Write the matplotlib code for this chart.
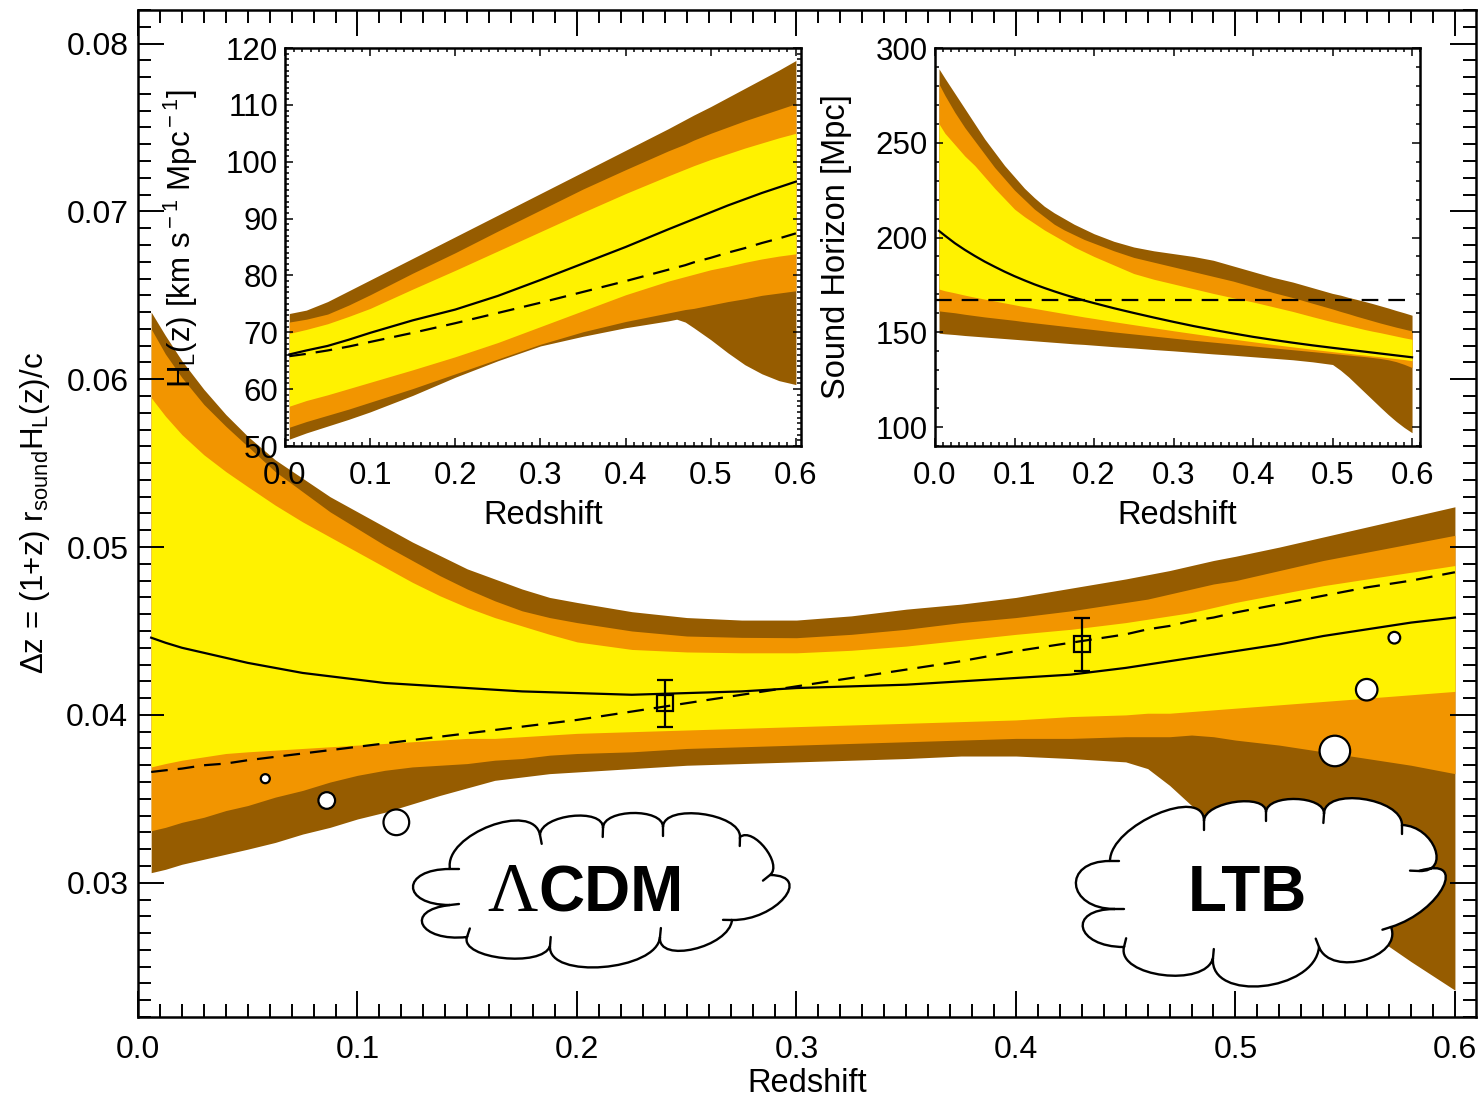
import numpy as np
import matplotlib
matplotlib.use("Agg")
import matplotlib.pyplot as plt
from matplotlib.patches import PathPatch
from matplotlib.path import Path
from matplotlib.ticker import MultipleLocator, FormatStrFormatter

plt.rcParams['font.family'] = ['Liberation Sans', 'DejaVu Sans']
plt.rcParams['mathtext.fontset'] = 'custom'
plt.rcParams['mathtext.rm'] = 'Liberation Sans'
plt.rcParams['mathtext.it'] = 'Liberation Sans:italic'
plt.rcParams['mathtext.bf'] = 'Liberation Sans:bold'

# ---------------- main panel data ----------------
z_main = [0.006, 0.0125, 0.02, 0.03, 0.04, 0.05, 0.0625, 0.075, 0.0875, 0.1, 0.1125, 0.125,
          0.1375, 0.15, 0.1625, 0.175, 0.1875, 0.2, 0.225, 0.25, 0.275, 0.3, 0.325, 0.35,
          0.375, 0.4, 0.425, 0.45, 0.46, 0.47, 0.48, 0.49, 0.5, 0.52, 0.54, 0.56, 0.58, 0.6]
main_u3 = [0.0640, 0.0626, 0.0611, 0.0594, 0.0579, 0.0566, 0.0552, 0.0541, 0.0530, 0.0521,
           0.0512, 0.0503, 0.0495, 0.0487, 0.0481, 0.0475, 0.0470, 0.0467, 0.04615, 0.0458,
           0.04565, 0.04565, 0.0459, 0.0463, 0.0466, 0.0470, 0.04755, 0.0481, 0.04835, 0.0486,
           0.0489, 0.0492, 0.04945, 0.0500, 0.0506, 0.0512, 0.0518, 0.0524]
main_u2 = [0.0630, 0.0615, 0.0601, 0.0585, 0.0572, 0.0560, 0.0545, 0.0533, 0.0521, 0.0511,
           0.0501, 0.0492, 0.0483, 0.0475, 0.0468, 0.0462, 0.0458, 0.0455, 0.0450, 0.0447,
           0.04462, 0.0446, 0.0448, 0.0451, 0.0455, 0.0458, 0.0462, 0.0467, 0.0469, 0.0472,
           0.0475, 0.0478, 0.0480, 0.0486, 0.0492, 0.0497, 0.0502, 0.0507]
main_u1 = [0.0589, 0.0578, 0.0567, 0.0555, 0.0545, 0.0536, 0.0525, 0.0515, 0.0506, 0.0497,
           0.0488, 0.0479, 0.0471, 0.0464, 0.0458, 0.0453, 0.0448, 0.04435, 0.0439, 0.04375,
           0.0437, 0.0437, 0.04385, 0.0441, 0.04445, 0.0448, 0.0451, 0.0455, 0.0457, 0.0459,
           0.0461, 0.0464, 0.0467, 0.0472, 0.0477, 0.0481, 0.0485, 0.0489]
main_l1 = [0.0369, 0.0371, 0.0373, 0.0375, 0.0377, 0.0378, 0.0379, 0.0380, 0.0381, 0.0382,
           0.0383, 0.0384, 0.0385, 0.0386, 0.0386, 0.0387, 0.0388, 0.0389, 0.0390, 0.0391,
           0.0392, 0.0393, 0.0394, 0.0395, 0.0396, 0.0397, 0.0399, 0.0400, 0.0401, 0.0401,
           0.0402, 0.0403, 0.0404, 0.0406, 0.0408, 0.0410, 0.0412, 0.0414]
main_l2 = [0.0331, 0.0333, 0.0336, 0.0339, 0.0343, 0.0346, 0.0351, 0.0355, 0.0360, 0.0364,
           0.0367, 0.0369, 0.0370, 0.0371, 0.0373, 0.0374, 0.0376, 0.0377, 0.0378, 0.0380,
           0.0381, 0.0382, 0.0383, 0.0384, 0.0385, 0.0386, 0.0386, 0.0387, 0.0387, 0.0387,
           0.0388, 0.0387, 0.0385, 0.0382, 0.0378, 0.0374, 0.0370, 0.0365]
main_l3 = [0.0306, 0.0308, 0.0311, 0.0314, 0.0317, 0.0320, 0.0324, 0.0329, 0.0333, 0.0338,
           0.0342, 0.0347, 0.0352, 0.03565, 0.0361, 0.0363, 0.0365, 0.0366, 0.0368, 0.0370,
           0.0371, 0.0372, 0.0373, 0.0374, 0.03755, 0.03755, 0.0374, 0.0372, 0.0368, 0.0358,
           0.0346, 0.0335, 0.0325, 0.0306, 0.0288, 0.0271, 0.0253, 0.0236]
main_ltb = [0.0446, 0.0443, 0.0440, 0.0437, 0.0434, 0.0431, 0.0428, 0.0425, 0.0423, 0.0421,
            0.0419, 0.0418, 0.0417, 0.0416, 0.0415, 0.0414, 0.04135, 0.0413, 0.0412, 0.0413,
            0.0414, 0.0416, 0.0417, 0.0418, 0.0420, 0.0422, 0.0424, 0.0428, 0.0430, 0.0432,
            0.0434, 0.0436, 0.0438, 0.0442, 0.0447, 0.0451, 0.0455, 0.0458]
main_lcdm = [0.0366, 0.0367, 0.0368, 0.0370, 0.0371, 0.0373, 0.0375, 0.0377, 0.0379, 0.0381,
             0.0383, 0.0385, 0.0387, 0.0389, 0.0391, 0.0393, 0.0395, 0.0397, 0.0402, 0.0407,
             0.0412, 0.0417, 0.0422, 0.0427, 0.0432, 0.0438, 0.0443, 0.0448, 0.0451, 0.0453,
             0.0456, 0.0458, 0.0461, 0.0466, 0.0471, 0.0476, 0.0480, 0.0485]

bao_z = [0.24, 0.43]
bao_dz = [0.0407, 0.0442]
bao_err = [0.0014, 0.0016]

# thought bubbles (z, value, marker diameter in pt)
bub_z = [0.058, 0.086, 0.1177, 0.5724, 0.5598, 0.5453]
bub_v = [0.0362, 0.0349, 0.0336, 0.0446, 0.0415, 0.03785]
bub_d = [6.5, 12.0, 18.5, 8.4, 15.5, 22.0]

# ---------------- inset 1: H_L(z) ----------------
z_h = [0.005, 0.025, 0.05, 0.075, 0.1, 0.15, 0.2, 0.25, 0.3, 0.35, 0.4, 0.45, 0.46, 0.47,
       0.48, 0.5, 0.52, 0.54, 0.56, 0.58, 0.6]
h_u3 = [73.3, 73.9, 75.4, 77.3, 79.2, 83.0, 86.8, 90.6, 94.4, 98.2, 102.0, 105.8, 106.6,
        107.4, 108.2, 109.7, 111.3, 112.9, 114.5, 116.1, 117.8]
h_u2 = [71.8, 72.3, 73.2, 74.8, 76.6, 80.4, 84.0, 87.8, 91.5, 95.2, 98.6, 101.9, 102.5,
        103.1, 103.8, 105.0, 106.1, 107.2, 108.2, 109.2, 110.2]
h_u1 = [69.8, 70.5, 71.5, 72.8, 74.2, 77.6, 80.9, 84.3, 87.7, 91.1, 94.4, 97.5, 98.1, 98.7,
        99.3, 100.4, 101.4, 102.4, 103.3, 104.2, 105.0]
h_l1 = [57.0, 58.0, 59.0, 60.1, 61.2, 63.4, 65.7, 68.2, 71.0, 73.8, 76.6, 79.0, 79.4, 79.8,
        80.2, 81.0, 81.6, 82.3, 82.9, 83.4, 83.8]
h_l2 = [53.3, 54.3, 55.4, 56.5, 57.7, 60.1, 62.7, 65.3, 67.9, 70.1, 71.9, 73.4, 73.7, 74.0,
        74.2, 74.8, 75.4, 75.9, 76.5, 76.9, 77.3]
h_l3 = [51.2, 52.3, 53.5, 54.7, 56.0, 58.9, 62.1, 65.0, 67.6, 69.3, 70.8, 72.0, 72.3, 71.8,
        70.8, 68.7, 66.4, 64.3, 62.7, 61.5, 60.8]
h_ltb = [66.1, 66.8, 67.6, 68.7, 69.9, 72.1, 74.0, 76.4, 79.2, 82.1, 85.0, 88.1, 88.7,
         89.3, 89.9, 91.1, 92.3, 93.4, 94.5, 95.5, 96.5]
h_lcdm = [65.8, 66.2, 66.8, 67.5, 68.3, 69.9, 71.6, 73.4, 75.2, 77.1, 79.0, 81.0, 81.4,
          81.8, 82.3, 83.1, 84.0, 84.8, 85.7, 86.5, 87.4]

# ---------------- inset 2: sound horizon ----------------
z_s = [0.005, 0.0125, 0.025, 0.0375, 0.05, 0.0625, 0.075, 0.0875, 0.1, 0.1125, 0.125,
       0.1375, 0.15, 0.1625, 0.175, 0.1875, 0.2, 0.225, 0.25, 0.275, 0.3, 0.325, 0.35,
       0.375, 0.4, 0.425, 0.45, 0.475, 0.5, 0.51, 0.52, 0.53, 0.54, 0.55, 0.56, 0.57,
       0.58, 0.59, 0.6]
s_u3 = [289, 284, 276, 268, 260, 252, 245, 238, 232, 226, 221, 216.5, 213, 210, 207, 204.5,
        202, 198, 195, 193, 191.5, 190, 188, 185, 182, 179, 176.5, 173.5, 170.5, 169.6,
        168.4, 167.4, 166.3, 165.2, 164.0, 162.8, 161.5, 160.3, 159]
s_u2 = [281, 275, 266, 258, 251, 244, 237, 231, 225, 220, 215, 211, 207, 204, 201.5, 199,
        197, 193, 189.5, 187, 184.5, 182, 179.5, 177, 174, 171, 168.3, 165.3, 162.3, 161.0,
        159.8, 158.5, 157.3, 156.1, 154.9, 153.8, 152.7, 151.7, 150.7]
s_u1 = [260, 255, 249, 243, 238, 232, 226, 220.5, 215, 211, 207.5, 204, 201, 198, 195,
        192.5, 190, 185.5, 181, 178, 175.5, 173, 170.5, 168.2, 166, 163.5, 161, 158.2, 155.5,
        154.5, 153.5, 152.5, 151.5, 150.6, 149.8, 148.9, 148.0, 147.1, 146.3]
s_l1 = [172.8, 171.9, 170.8, 169.6, 168.5, 167.5, 166.5, 165.5, 164.5, 163.5, 162.6, 161.7,
        160.8, 159.9, 159.0, 158.1, 157.3, 155.6, 154.0, 152.4, 150.8, 149.3, 147.8, 146.4,
        145.0, 143.6, 142.3, 141.0, 139.8, 139.3, 138.9, 138.4, 138.0, 137.5, 137.1, 136.6,
        136.1, 135.6, 135.0]
s_l2 = [161.3, 160.9, 160.3, 159.5, 158.8, 158.1, 157.5, 156.9, 156.3, 155.6, 155.0, 154.4,
        153.8, 153.2, 152.6, 152.0, 151.4, 150.2, 149.1, 148.0, 146.9, 145.8, 144.8, 143.8,
        142.8, 141.8, 140.8, 139.8, 138.8, 138.4, 138.0, 137.6, 137.2, 136.7, 136.2, 135.5,
        134.5, 133.1, 131.4]
s_l3 = [149.5, 149.2, 148.8, 148.3, 147.9, 147.5, 147.1, 146.7, 146.3, 145.9, 145.5, 145.1,
        144.7, 144.3, 143.9, 143.6, 143.2, 142.4, 141.7, 140.9, 140.2, 139.4, 138.6, 137.9,
        137.1, 136.3, 135.5, 134.4, 133.0, 130.0, 126.5, 122.5, 118.5, 114.5, 110.5, 106.6,
        103.0, 99.8, 97.0]
s_ltb = [203.5, 201.0, 197.0, 193.5, 190.3, 187.3, 184.6, 182.0, 179.6, 177.4, 175.3, 173.4,
         171.6, 169.9, 168.3, 166.8, 165.4, 162.7, 160.2, 157.8, 155.5, 153.3, 151.3, 149.4,
         147.6, 146.0, 144.5, 143.1, 141.8, 141.3, 140.8, 140.3, 139.8, 139.3, 138.8, 138.3,
         137.8, 137.3, 136.8]
s_lcdm_z = [0.0, 0.6]
s_lcdm = [167.0, 167.0]

# ---------------- clouds (figure pixel coordinates) ----------------
lcdm_valleys = [(450, 869), (540, 835), (603, 828), (663, 827), (740, 837), (770, 875),
                (732, 920), (660, 937), (550, 946), (467, 937), (450, 905)]
lcdm_peaks = [(490, 826), (572, 816), (633, 813), (702, 814), (765, 848), (784, 898),
              (694, 949), (603, 967), (503, 958), (423, 925), (413, 887)]
ltb_valleys = [(1110, 861), (1204, 821), (1266, 812), (1324, 814), (1402, 825), (1419, 871),
               (1391, 927), (1319, 947), (1213, 958), (1124, 947), (1115, 909)]
ltb_peaks = [(1157, 814), (1235, 802), (1296, 799), (1363, 799), (1435, 849), (1443, 887),
             (1364, 960), (1263, 986), (1163, 975), (1083, 928), (1076, 885)]

BROWN = '#965C00'
ORANGE = '#F29500'
YELLOW = '#FFF200'

W, H = 1482, 1099
fig = plt.figure(figsize=(W / 100, H / 100), dpi=100)
fig.patch.set_facecolor('white')


def px_axes(l, r, t, b, **kw):
    return fig.add_axes([l / W, (H - b) / H, (r - l) / W, (b - t) / H], **kw)


def style(a, xmaj, xmin, ymaj, ymin, majlen, minlen, lsize, padx, pady, lw_sp, lw_t):
    a.xaxis.set_major_locator(MultipleLocator(xmaj))
    a.xaxis.set_minor_locator(MultipleLocator(xmin))
    a.yaxis.set_major_locator(MultipleLocator(ymaj))
    a.yaxis.set_minor_locator(MultipleLocator(ymin))
    a.tick_params(which='both', direction='in', top=True, right=True, width=lw_t)
    a.tick_params(which='major', length=majlen)
    a.tick_params(which='minor', length=minlen)
    a.tick_params(axis='x', pad=padx, labelsize=lsize)
    a.tick_params(axis='y', pad=pady, labelsize=lsize)
    for s in a.spines.values():
        s.set_linewidth(lw_sp)


DASH = (0, (7.5, 4.5))

# ---------------- main axes ----------------
ax = px_axes(138, 1476, 10, 1017)
ax.fill_between(z_main, main_l3, main_u3, color=BROWN, lw=0)
ax.fill_between(z_main, main_l2, main_u2, color=ORANGE, lw=0)
ax.fill_between(z_main, main_l1, main_u1, color=YELLOW, lw=0)
ax.plot(z_main, main_ltb, color='k', lw=1.6)
ax.plot(z_main, main_lcdm, color='k', lw=1.6, ls=DASH)
ax.errorbar(bao_z, bao_dz, yerr=bao_err, fmt='s', ms=11, mfc='none', mec='k', mew=1.6,
            ecolor='k', elinewidth=1.6, capsize=5.5, capthick=1.6, zorder=4)
ax.scatter(bub_z, bub_v, s=np.array(bub_d) ** 2, facecolor='white', edgecolor='k',
           linewidth=1.6, zorder=5)
ax.set_xlim(0, 0.6096)
ax.set_ylim(0.022, 0.082)
style(ax, 0.1, 0.01, 0.01, 0.001, 19, 9.5, 23, 13, 7, 1.8, 1.4)
ax.xaxis.set_major_formatter(FormatStrFormatter('%.1f'))
ax.yaxis.set_major_formatter(FormatStrFormatter('%.2f'))
ax.set_xlabel('Redshift', fontsize=23.5)
ax.xaxis.set_label_coords(0.5, -0.051)
ax.set_ylabel(r'$\Delta$z = (1+z) r$_{\rm sound}$H$_{\rm L}$(z)/c', fontsize=22.5)
ax.yaxis.set_label_coords(-0.064, 0.5)

# ---------------- overlay for clouds ----------------
ov = fig.add_axes([0, 0, 1, 1], zorder=3)
ov.set_xlim(0, W)
ov.set_ylim(H, 0)
ov.axis('off')


def cloud(a, valleys, peaks):
    verts = [valleys[0]]
    codes = [Path.MOVETO]
    n = len(valleys)
    hooks = []
    for i in range(n):
        v0 = np.array(valleys[i], float)
        v1 = np.array(valleys[(i + 1) % n], float)
        p = np.array(peaks[i], float)
        m = 0.5 * (v0 + v1)
        d = (4.0 / 3.0) * (p - m)
        c1 = v0 + d
        c2 = v1 + d
        verts += [tuple(c1), tuple(c2), tuple(v1)]
        codes += [Path.CURVE4] * 3
        t = v1 - c2
        t = t / np.hypot(*t)
        hooks.append((v1, v1 + 9 * t))
    path = Path(verts, codes)
    a.add_patch(PathPatch(path, facecolor='white', edgecolor='black', lw=1.7, zorder=1))
    for h0, h1 in hooks:
        a.plot([h0[0], h1[0]], [h0[1], h1[1]], color='black', lw=1.7,
               solid_capstyle='round', zorder=2)


cloud(ov, lcdm_valleys, lcdm_peaks)
cloud(ov, ltb_valleys, ltb_peaks)
ov.text(487, 911, 'Λ', family='Liberation Serif', fontsize=50, ha='left', va='baseline',
        zorder=3)
ov.text(538, 911, 'CDM', fontsize=46, fontweight='bold', ha='left', va='baseline', zorder=3)
ov.text(1247, 911, 'LTB', fontsize=46, fontweight='bold', ha='center', va='baseline',
        zorder=3)

# ---------------- inset 1 ----------------
a1 = px_axes(285, 801, 48, 446, zorder=5)
a1.fill_between(z_h, h_l3, h_u3, color=BROWN, lw=0)
a1.fill_between(z_h, h_l2, h_u2, color=ORANGE, lw=0)
a1.fill_between(z_h, h_l1, h_u1, color=YELLOW, lw=0)
a1.plot(z_h, h_ltb, color='k', lw=1.6)
a1.plot(z_h, h_lcdm, color='k', lw=1.6, ls=DASH)
a1.set_xlim(0, 0.606)
a1.set_ylim(50, 120)
style(a1, 0.1, 0.01, 10, 1, 6, 3, 22.5, 11, 5, 1.8, 1.1)
a1.xaxis.set_major_formatter(FormatStrFormatter('%.1f'))
a1.yaxis.set_major_formatter(FormatStrFormatter('%d'))
a1.set_xlabel('Redshift', fontsize=23.5)
a1.xaxis.set_label_coords(0.5, -0.135)
a1.set_ylabel(r'H$_{\rm L}$(z) [km s$^{\rm -1}$ Mpc$^{\rm -1}$]', fontsize=22.5)
a1.yaxis.set_label_coords(-0.165, 0.52)

# ---------------- inset 2 ----------------
a2 = px_axes(935, 1420, 48, 446, zorder=5)
a2.fill_between(z_s, s_l3, s_u3, color=BROWN, lw=0)
a2.fill_between(z_s, s_l2, s_u2, color=ORANGE, lw=0)
a2.fill_between(z_s, s_l1, s_u1, color=YELLOW, lw=0)
a2.plot(z_s, s_ltb, color='k', lw=1.6)
a2.plot(s_lcdm_z, s_lcdm, color='k', lw=1.6, ls=DASH)
a2.set_xlim(0, 0.61)
a2.set_ylim(90, 300)
style(a2, 0.1, 0.01, 50, 10, 6, 3, 22.5, 11, 5, 1.8, 1.1)
a2.xaxis.set_major_formatter(FormatStrFormatter('%.1f'))
a2.yaxis.set_major_formatter(FormatStrFormatter('%d'))
a2.set_xlabel('Redshift', fontsize=23.5)
a2.xaxis.set_label_coords(0.5, -0.135)
a2.set_ylabel('Sound Horizon [Mpc]', fontsize=23.5)
a2.yaxis.set_label_coords(-0.172, 0.5)

fig.savefig('out.png', dpi=100, facecolor='white')
